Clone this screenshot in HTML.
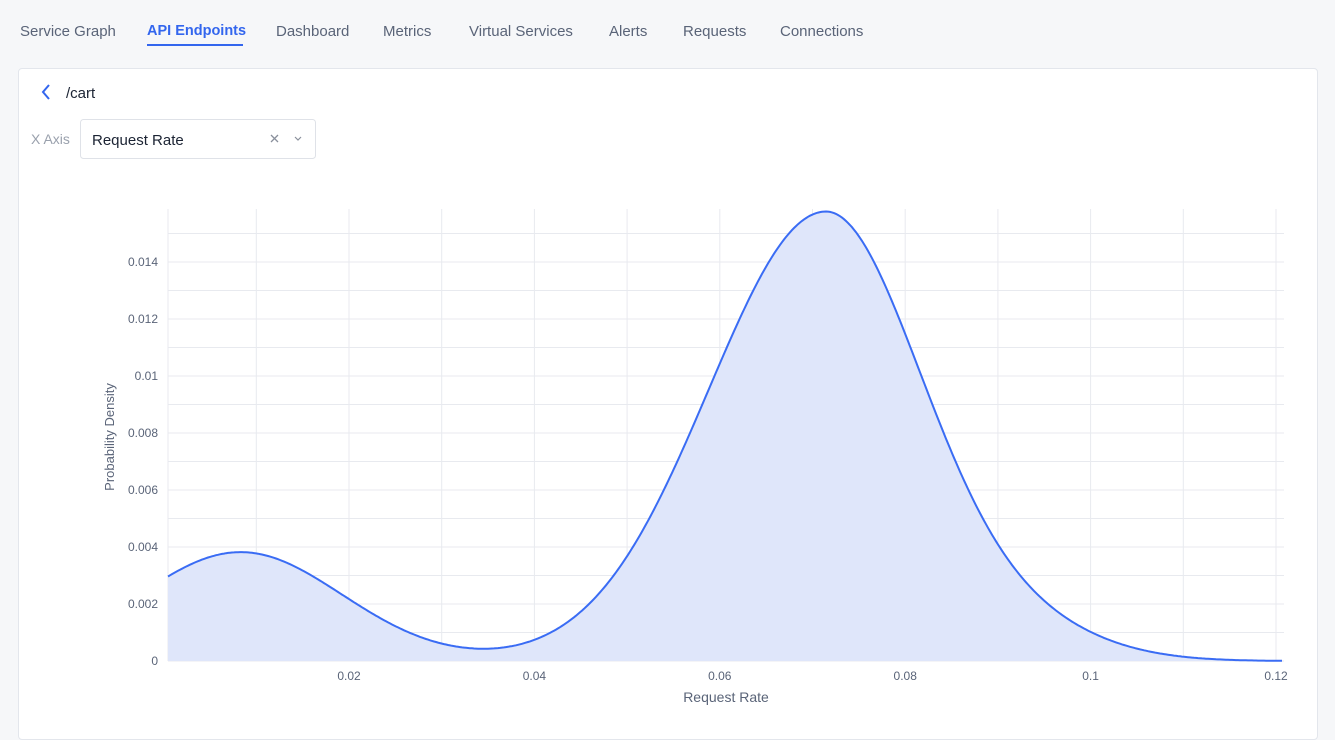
<!DOCTYPE html>
<html><head><meta charset="utf-8"><style>
body{margin:0;width:1335px;height:726px;background:#f6f7f9;font-family:"Liberation Sans",sans-serif;overflow:hidden;position:relative}
.nav{position:absolute;top:23px;left:20px;font-size:15px;color:#5a6478}
.nav span{position:absolute;white-space:nowrap}
.act{color:#3366ee;font-weight:bold;font-size:14.5px}
.ul{position:absolute;left:147px;top:44px;width:96px;height:2px;background:#3366ee}
.card{position:absolute;left:18px;top:68px;width:1298px;height:670px;background:#fff;border:1px solid #e3e6ec;border-radius:4px}
</style></head><body>
<div class="nav">
<span style="left:0">Service Graph</span>
<span class="act" style="left:127px">API Endpoints</span>
<span style="left:256px">Dashboard</span>
<span style="left:363px">Metrics</span>
<span style="left:449px">Virtual Services</span>
<span style="left:589px">Alerts</span>
<span style="left:663px">Requests</span>
<span style="left:760px">Connections</span>
</div>
<div class="ul"></div>
<div class="card"></div>
<svg style="position:absolute;left:0;top:0" width="1335" height="726">
<path d="M49 85 L43 92 L49 99" stroke="#3366ee" stroke-width="2" fill="none"/>
<text x="66" y="98" font-size="15" fill="#1b2333" font-family="Liberation Sans">/cart</text>
<text x="31" y="144" font-size="14" fill="#9aa1ad" font-family="Liberation Sans">X Axis</text>
<rect x="80.5" y="119.5" width="235" height="39" rx="3" fill="#fff" stroke="#dfe2e8"/>
<text x="92" y="145" font-size="15" fill="#1b2333" font-family="Liberation Sans">Request Rate</text>
<path d="M271 135 L278 142 M278 135 L271 142" stroke="#8a909c" stroke-width="1.3"/>
<path d="M295 137 L298 140 L301 137" stroke="#8a909c" stroke-width="1.2" fill="none"/>
<g id="grid" stroke="#e8eaef" stroke-width="1"></g>
<path id="area" fill="#dfe6fa" stroke="none"/>
<path id="line" fill="none" stroke="#3a6cf4" stroke-width="2"/>
<g id="lab" font-family="Liberation Sans" font-size="12" fill="#5a6478"></g>
<text x="726" y="702" font-size="14" fill="#5a6478" text-anchor="middle" font-family="Liberation Sans">Request Rate</text>
<text transform="translate(114,437) rotate(-90)" font-size="13" fill="#5a6478" text-anchor="middle" font-family="Liberation Sans">Probability Density</text>
</svg>
<script>
var X=function(v){return 163.6+v*9270},Y=function(v){return 661-v*28500};
var g=document.getElementById('grid'),l=document.getElementById('lab'),h='',t='';
for(var i=0;i<=15;i++){h+='<line x1="168" x2="1284" y1="'+Y(i*0.001)+'" y2="'+Y(i*0.001)+'"/>';}
h+='<line x1="168" x2="168" y1="209" y2="661"/>';
for(var i=1;i<=12;i++){h+='<line y1="209" y2="661" x1="'+X(i*0.01)+'" x2="'+X(i*0.01)+'"/>';}
g.innerHTML=h;
var ys=['0','0.002','0.004','0.006','0.008','0.01','0.012','0.014'];
ys.forEach(function(s,k){t+='<text x="158" y="'+(Y(k*0.002)+4)+'" text-anchor="end">'+s+'</text>';});
['0.02','0.04','0.06','0.08','0.1','0.12'].forEach(function(s,k){t+='<text x="'+X((k+1)*0.02)+'" y="680" text-anchor="middle">'+s+'</text>';});
l.innerHTML=t;
function G(x,m,s){return Math.exp(-Math.pow(x-m,2)/(2*s*s));}
function f(x){return 0.00382*G(x,0.0083,0.011)+0.0157*G(x,0.0713,x<0.0713?0.0125:0.0104)+0.001*G(x,0.092,0.009);}
var d='';for(var px=168;px<=1282;px+=2){var x=(px-163.6)/9270;d+=(d?'L':'M')+px+' '+Y(f(x)).toFixed(1);}
document.getElementById('line').setAttribute('d',d);
document.getElementById('area').setAttribute('d',d+'L1282 661L168 661Z');
</script>
</body></html>
